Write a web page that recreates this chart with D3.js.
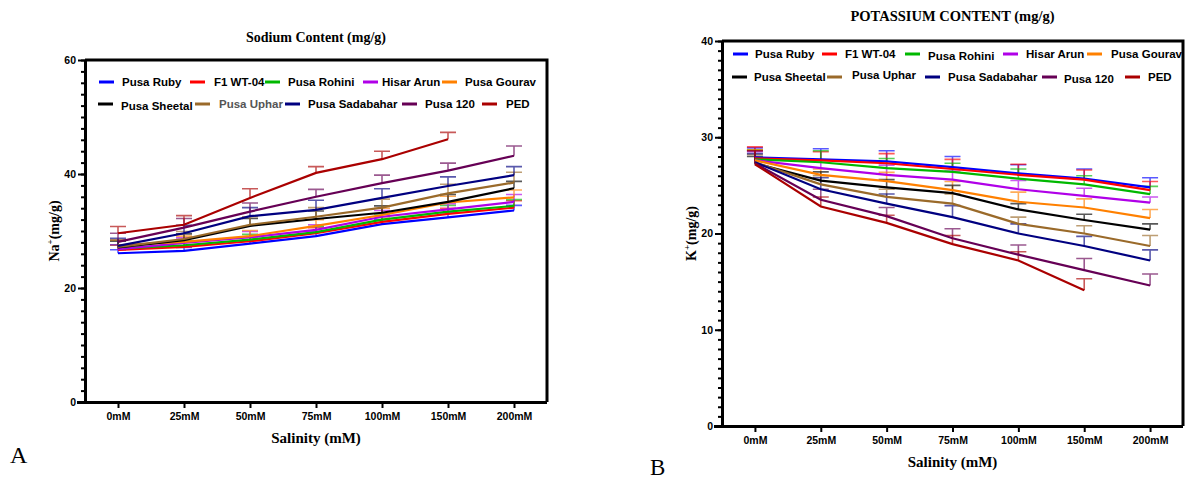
<!DOCTYPE html>
<html>
<head>
<meta charset="utf-8">
<script src="https://cdn.jsdelivr.net/npm/d3@7"></script>
<style>
  body { margin: 0; background: #fff; }
  svg { display: block; }
  .tick text { font-family: "Liberation Sans", Arial, sans-serif; font-weight: bold; font-size: 10.5px; fill: #000; }
  .leg { font-family: "Liberation Sans", Arial, sans-serif; font-weight: bold; font-size: 11.5px; }
  .serif { font-family: "Liberation Serif", "Times New Roman", serif; font-weight: bold; }
</style>
</head>
<body>
<svg id="chart" width="1187" height="481"></svg>
<script>
const categories = ["0mM", "25mM", "50mM", "75mM", "100mM", "150mM", "200mM"];
const varieties = ["Pusa Ruby", "F1 WT-04", "Pusa Rohini", "Hisar Arun", "Pusa Gourav",
                   "Pusa Sheetal", "Pusa Uphar", "Pusa Sadabahar", "Pusa 120", "PED"];
const colors = ["#0000ff", "#ff0000", "#00b800", "#b000e8", "#ff8000",
                "#000000", "#9a6a2a", "#000080", "#660055", "#aa0000"];

// sodium (mg/g), one array per variety, null = no value
const naPusaRuby      = [26.1, 26.5, 27.8, 29.1, 31.2, 32.4, 33.6];
const naF1WT04        = [26.7, 27.2, 28.2, 29.6, 31.6, 33.0, 34.1];
const naPusaRohini    = [26.9, 27.5, 28.5, 29.8, 32.0, 33.4, 34.4];
const naHisarArun     = [26.8, 27.9, 28.9, 30.2, 32.5, 33.8, 35.1];
const naPusaGourav    = [27.5, 28.1, 29.1, 30.9, 32.8, 35.0, 35.9];
const naPusaSheetal   = [27.1, 28.4, 30.9, 32.1, 33.2, 35.1, 37.5];
const naPusaUphar     = [27.2, 28.6, 31.1, 32.5, 34.1, 36.6, 38.5];
const naPusaSadabahar = [27.4, 29.6, 32.6, 33.7, 35.8, 37.9, 39.8];
const naPusa120       = [28.1, 30.6, 33.4, 36.0, 38.4, 40.6, 43.2];
const naPED           = [29.6, 31.1, 35.8, 40.2, 42.6, 46.1, null];
const naErr = [
  [0.6, 0.6, 0.7, 0.7, 0.8, 0.8, 0.9],
  [0.8, 0.9, 0.8, 1.0, 0.9, 1.0, 1.2],
  [0.7, 0.8, 0.9, 1.0, 1.0, 1.1, 1.1],
  [0.8, 0.9, 1.0, 0.9, 1.1, 1.0, 1.3],
  [0.9, 1.0, 1.0, 1.1, 1.2, 1.1, 1.3],
  [1.1, 1.1, 1.3, 1.4, 1.2, 1.3, 1.2],
  [1.2, 1.3, 1.4, 1.6, 1.5, 1.6, 1.8],
  [1.3, 1.4, 1.5, 1.7, 1.6, 1.6, 1.5],
  [1.5, 1.6, 1.5, 1.3, 1.4, 1.3, 1.7],
  [1.2, 1.6, 1.6, 1.1, 1.4, 1.2, null]
];

// potassium (mg/g)
const kPusaRuby      = [27.9, 27.7, 27.5, 26.9, 26.25, 25.7, 24.8];
const kF1WT04        = [27.8, 27.6, 27.3, 26.7, 26.1, 25.6, 24.5];
const kPusaRohini    = [27.7, 27.4, 26.8, 26.4, 25.7, 25.1, 24.1];
const kHisarArun     = [27.6, 26.8, 26.1, 25.6, 24.6, 23.9, 23.2];
const kPusaGourav    = [27.6, 26.1, 25.45, 24.5, 23.3, 22.7, 21.6];
const kPusaSheetal   = [27.3, 25.5, 24.8, 24.2, 22.5, 21.4, 20.4];
const kPusaUphar     = [27.4, 25.1, 23.8, 23.1, 21.0, 20.0, 18.7];
const kPusaSadabahar = [27.4, 24.6, 23.1, 21.7, 20.0, 18.7, 17.2];
const kPusa120       = [27.3, 23.5, 21.8, 19.5, 17.8, 16.2, 14.6];
const kPED           = [27.2, 22.8, 21.1, 18.9, 17.2, 14.1, null];
const kErr = [
  [1.0, 1.1, 1.1, 1.1, 0.9, 1.0, 1.0],
  [1.2, 0.9, 1.0, 1.0, 1.1, 1.0, 0.9],
  [1.0, 1.2, 1.0, 0.9, 1.0, 0.9, 0.8],
  [0.9, 0.8, 1.0, 0.9, 0.9, 0.8, 0.6],
  [1.1, 0.6, 0.9, 0.9, 1.0, 0.9, 0.9],
  [0.7, 0.9, 0.8, 0.8, 0.6, 0.6, 0.6],
  [0.8, 0.9, 0.8, 1.0, 0.7, 0.8, 1.1],
  [0.9, 1.2, 1.0, 1.2, 1.0, 1.0, 1.1],
  [1.3, 1.1, 0.9, 1.0, 1.0, 1.2, 1.2],
  [1.4, 1.0, 0.8, 0.9, 0.9, 1.2, null]
];

const naSeries = [naPusaRuby, naF1WT04, naPusaRohini, naHisarArun, naPusaGourav,
                  naPusaSheetal, naPusaUphar, naPusaSadabahar, naPusa120, naPED];
const kSeries = [kPusaRuby, kF1WT04, kPusaRohini, kHisarArun, kPusaGourav,
                 kPusaSheetal, kPusaUphar, kPusaSadabahar, kPusa120, kPED];

const svg = d3.select("#chart");

function drawPanel(opt) {
  const g = svg.append("g");
  const x = d3.scalePoint().domain(categories).range([opt.left, opt.right]).padding(0.5);
  const y = d3.scaleLinear().domain([0, opt.max]).range([opt.bottom, opt.top]);

  // frame (top + right)
  g.append("path")
    .attr("d", `M${opt.left},${opt.top}H${opt.right}V${opt.bottom}`)
    .attr("fill", "none").attr("stroke", "#000").attr("stroke-width", 3);

  // minor y ticks
  g.append("g")
    .attr("transform", `translate(${opt.left},0)`)
    .call(d3.axisLeft(y).tickValues(d3.range(0, opt.max + 0.01, opt.minor)).tickSize(4).tickFormat(""))
    .call(a => a.select(".domain").remove())
    .selectAll("line").attr("stroke-width", 2);

  // major y axis
  g.append("g")
    .attr("transform", `translate(${opt.left},0)`)
    .call(d3.axisLeft(y).tickValues(d3.range(0, opt.max + 0.01, opt.major)).tickSize(7).tickSizeOuter(0).tickPadding(2))
    .call(a => a.select(".domain").attr("stroke-width", 3))
    .selectAll("line").attr("stroke-width", 2);

  // x axis
  g.append("g")
    .attr("transform", `translate(0,${opt.bottom})`)
    .call(d3.axisBottom(x).tickSize(6).tickSizeOuter(0).tickPadding(5))
    .call(a => a.select(".domain").attr("d", `M${opt.left - 8},0.5H${opt.right}`).attr("stroke-width", 3))
    .selectAll("line").attr("stroke-width", 2);

  // error bars (upward only)
  opt.series.forEach((vals, i) => {
    const eb = g.append("g").attr("stroke", colors[i]).attr("stroke-opacity", 0.65).attr("stroke-width", 1.6).attr("fill", "none");
    vals.forEach((v, j) => {
      if (v == null) return;
      const e = opt.errors[i][j];
      const cx = x(categories[j]);
      eb.append("path")
        .attr("d", `M${cx},${y(v)}V${y(v + e)}M${cx - 8},${y(v + e)}H${cx + 8}`);
    });
  });

  // lines
  const line = d3.line()
    .defined(d => d.v != null)
    .x(d => x(d.c))
    .y(d => y(d.v));
  opt.series.forEach((vals, i) => {
    g.append("path")
      .datum(vals.map((v, j) => ({ c: categories[j], v })))
      .attr("d", line)
      .attr("fill", "none")
      .attr("stroke", colors[i])
      .attr("stroke-width", 2.2);
  });

  // legend
  varieties.forEach((name, i) => {
    const p = opt.legend[i];
    g.append("line")
      .attr("x1", p[0]).attr("x2", p[0] + 15)
      .attr("y1", p[1]).attr("y2", p[1])
      .attr("stroke", colors[i]).attr("stroke-width", 3);
    const t = g.append("text")
      .attr("class", "leg")
      .attr("x", p[2]).attr("y", p[1] + 4 + (p[3] || 0))
      .text(name);
    if (opt.plainUphar && name === "Pusa Uphar") t.attr("font-weight", "normal").attr("fill", "#555");
  });

  // titles
  const cx = (opt.left + opt.right) / 2;
  g.append("text").attr("class", "serif")
    .attr("x", cx).attr("y", opt.titleY)
    .attr("text-anchor", "middle").attr("font-size", opt.titleSize)
    .text(opt.title);
  g.append("text").attr("class", "serif")
    .attr("x", cx).attr("y", opt.bottom + 41)
    .attr("text-anchor", "middle").attr("font-size", 15)
    .text("Salinity (mM)");
  const yt = g.append("text").attr("class", "serif")
    .attr("transform", `translate(${opt.left - 26},${(opt.top + opt.bottom) / 2}) rotate(-90)`)
    .attr("text-anchor", "middle").attr("font-size", 14);
  yt.append("tspan").text(opt.ion);
  yt.append("tspan").attr("font-size", 9).attr("dy", -6).text("+");
  yt.append("tspan").attr("dy", 6).text("(mg/g)");
}

drawPanel({
  left: 85, right: 547, top: 60, bottom: 402, max: 60, major: 20, minor: 2,
  series: naSeries, errors: naErr,
  title: "Sodium Content (mg/g)", titleY: 42, titleSize: 14, ion: "Na",
  plainUphar: true,
  legend: [
    [99, 82, 122], [190, 82, 214], [265, 82, 288], [363, 82, 382], [442, 82, 465],
    [98, 104, 121, 2], [195, 104, 219], [285, 104, 308], [402, 104, 425], [482, 104, 506]
  ]
});

drawPanel({
  left: 722, right: 1183, top: 41, bottom: 426, max: 40, major: 10, minor: 1,
  series: kSeries, errors: kErr,
  title: "POTASSIUM CONTENT (mg/g)", titleY: 21, titleSize: 14.5, ion: "K",
  legend: [
    [733, 54, 755], [822, 54, 845], [905, 54, 928, 2], [1003, 54, 1026], [1087, 54, 1111],
    [732, 77, 754], [827, 77, 852, -2], [925, 77, 948], [1042, 77, 1064, 2], [1125, 77, 1148]
  ]
});

// panel letters
svg.append("text").attr("x", 10).attr("y", 463)
  .attr("font-family", "Liberation Serif, serif").attr("font-size", 24).text("A");
svg.append("text").attr("x", 650).attr("y", 475)
  .attr("font-family", "Liberation Serif, serif").attr("font-size", 23).text("B");
</script>
</body>
</html>
